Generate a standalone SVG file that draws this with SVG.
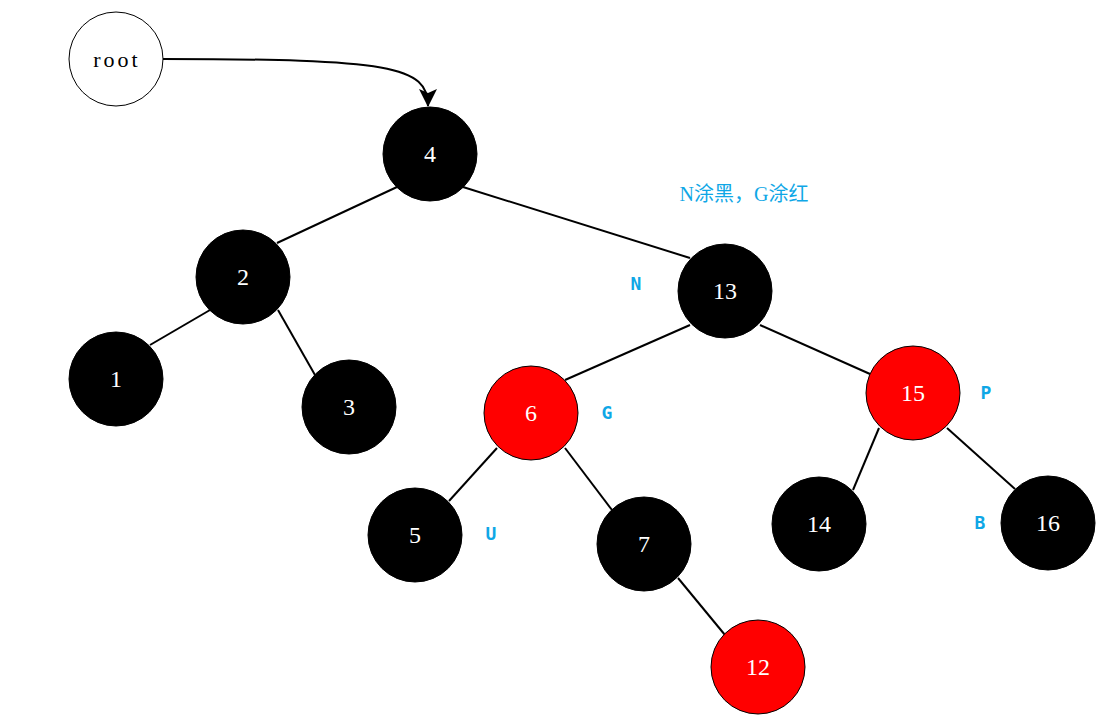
<svg xmlns="http://www.w3.org/2000/svg" width="1113" height="722" viewBox="0 0 1113 722">
<defs>
<marker id="ah" markerWidth="20" markerHeight="20" refX="17" refY="9" orient="auto" markerUnits="userSpaceOnUse">
<path d="M0,0 L18,9 L0,18 L4,9 Z" fill="#000"/>
</marker>
<style>
.b{fill:#000;stroke:#000;stroke-width:1}
.r{fill:#ff0000;stroke:#000;stroke-width:1}
.w{fill:#fff;stroke:#000;stroke-width:1}
.t{font-family:"Liberation Serif","DejaVu Serif",serif;font-size:24px;fill:#fff;text-anchor:middle;dominant-baseline:central}
.rt{font-family:"Liberation Serif","DejaVu Serif",serif;font-size:22px;letter-spacing:3px;fill:#000;text-anchor:middle;dominant-baseline:central}
.lb{font-family:"DejaVu Sans Mono","Liberation Mono",monospace;font-size:18px;font-weight:bold;fill:#0fa7e6;text-anchor:middle;dominant-baseline:central}
.note{font-family:"Liberation Serif","Noto Sans CJK SC",serif;font-size:20px;fill:#0fa7e6;text-anchor:middle;dominant-baseline:central}
.e{stroke:#000;stroke-width:2;fill:none}
</style>
</defs>
<rect width="1113" height="722" fill="#fff"/>
<g id="connectors">
<path class="e" d="M163,59 C390,59 428,66 428,106" marker-end="url(#ah)"/>
<line class="e" x1="397" y1="187" x2="277" y2="243"/>
<line class="e" x1="463" y1="187" x2="690" y2="258"/>
<line class="e" x1="210" y1="310" x2="150" y2="345"/>
<line class="e" x1="278" y1="310" x2="315" y2="375"/>
<line class="e" x1="690" y1="325" x2="565" y2="380"/>
<line class="e" x1="760" y1="325" x2="870" y2="374"/>
<line class="e" x1="497" y1="448" x2="449" y2="501"/>
<line class="e" x1="565" y1="448" x2="612" y2="510"/>
<line class="e" x1="678" y1="578" x2="725" y2="635"/>
<line class="e" x1="879" y1="428" x2="853" y2="490"/>
<line class="e" x1="947" y1="428" x2="1015" y2="489"/>
</g>
<g id="n-root"><circle class="w" cx="116" cy="59" r="47"/><text class="rt" x="117" y="59">root</text></g>
<g id="n4"><circle class="b" cx="430" cy="154" r="47"/><text class="t" x="430" y="154">4</text></g>
<g id="n2"><circle class="b" cx="243" cy="277" r="47"/><text class="t" x="243" y="277">2</text></g>
<g id="n1"><circle class="b" cx="116" cy="379" r="47"/><text class="t" x="116" y="379">1</text></g>
<g id="n3"><circle class="b" cx="349" cy="407" r="47"/><text class="t" x="349" y="407">3</text></g>
<g id="n13"><circle class="b" cx="725" cy="291" r="47"/><text class="t" x="725" y="291">13</text></g>
<g id="n6"><circle class="r" cx="531" cy="413" r="47"/><text class="t" x="531" y="413">6</text></g>
<g id="n15"><circle class="r" cx="913" cy="393" r="47"/><text class="t" x="913" y="393">15</text></g>
<g id="n5"><circle class="b" cx="415" cy="535" r="47"/><text class="t" x="415" y="535">5</text></g>
<g id="n7"><circle class="b" cx="644" cy="544" r="47"/><text class="t" x="644" y="544">7</text></g>
<g id="n14"><circle class="b" cx="819" cy="524" r="47"/><text class="t" x="819" y="524">14</text></g>
<g id="n16"><circle class="b" cx="1048" cy="523" r="47"/><text class="t" x="1048" y="523">16</text></g>
<g id="n12"><circle class="r" cx="758" cy="667" r="47"/><text class="t" x="758" y="667">12</text></g>
<g id="labels">
<text class="note" x="744" y="194">N涂黑，G涂红</text>
<text class="lb" x="636" y="283">N</text>
<text class="lb" x="607" y="412">G</text>
<text class="lb" x="986" y="392">P</text>
<text class="lb" x="491" y="533">U</text>
<text class="lb" x="980" y="522">B</text>
</g>
</svg>
